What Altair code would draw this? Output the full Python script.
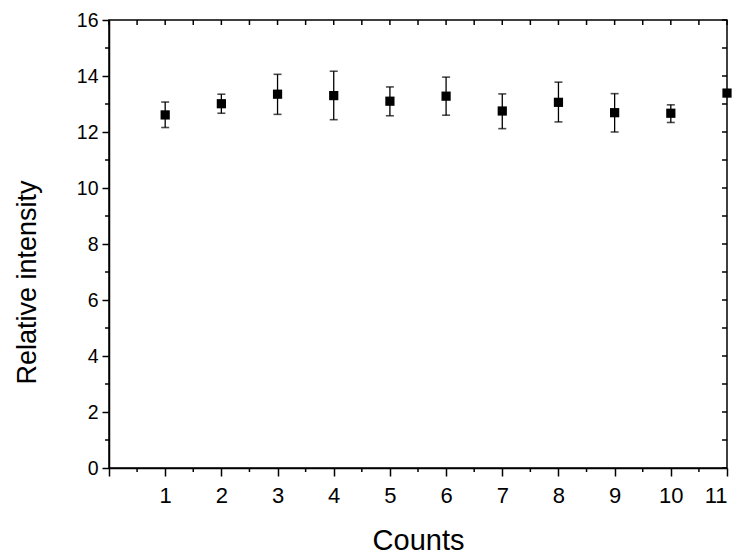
import altair as alt
import pandas as pd

# Data
counts = [1, 2, 3, 4, 5, 6, 7, 8, 9, 10, 11]
intensity = [12.61, 13.01, 13.35, 13.30, 13.10, 13.28, 12.75, 13.06, 12.69, 12.67, 13.39]
err_low = [12.16, 12.67, 12.63, 12.44, 12.58, 12.60, 12.12, 12.36, 12.00, 12.34, 13.39]
err_high = [13.07, 13.35, 14.06, 14.17, 13.61, 13.96, 13.36, 13.78, 13.37, 12.97, 13.39]

# Tick values
x_major = list(range(0, 12))
x_minor = [i + 0.5 for i in range(0, 11)]
x_all = [i * 0.5 for i in range(0, 23)]
y_major = list(range(0, 17, 2))
y_minor = list(range(1, 16, 2))
y_all = list(range(0, 17))

df = pd.DataFrame({"x": counts, "y": intensity, "lo": err_low, "hi": err_high})

W, H = 618, 448
NARROW = "'Liberation Sans Narrow', 'Arial Narrow', 'Liberation Sans', sans-serif"
LABEL = "'Liberation Sans', Arial, sans-serif"

xs = alt.Scale(domain=[0, 11], nice=False, zero=False)
ys = alt.Scale(domain=[0, 16], nice=False, zero=False)

x_axis = alt.Axis(orient="bottom", values=x_major, format="d",
                  labelExpr="datum.value == 0 ? '' : datum.label",
                  tickSize=8, tickWidth=1.5, tickColor="black", domainColor="black", domainWidth=1.5,
                  labelFont=LABEL, labelFontSize=22, labelColor="black", labelPadding=9,
                  title="Counts", titleFont=NARROW, titleFontSize=29, titleFontWeight="normal",
                  titleColor="black", titleY=72, titleBaseline="middle", grid=False)
y_axis = alt.Axis(orient="left", values=y_major, format="d", tickSize=7, tickWidth=1.5, tickColor="black",
                  domainColor="black", domainWidth=1.5, labelFont=LABEL, labelFontSize=19.5,
                  labelColor="black", labelPadding=4, title="Relative intensity", titleFont=NARROW,
                  titleFontSize=27, titleFontWeight="normal", titleColor="black", titleX=-82,
                  titleY=262, titleAngle=270, titleAlign="center", titleBaseline="middle", grid=False)

base = alt.Chart(df)

points = base.mark_square(size=85, color="black", opacity=1, clip=False).encode(
    x=alt.X("x:Q", scale=xs, axis=x_axis),
    y=alt.Y("y:Q", scale=ys, axis=y_axis),
)
bars = base.mark_rule(color="black", strokeWidth=1.3).encode(
    x=alt.X("x:Q"),
    y=alt.Y("lo:Q"),
    y2="hi:Q",
)
cap_lo = base.mark_tick(color="black", orient="horizontal", size=8, thickness=1.6).encode(
    x=alt.X("x:Q"),
    y=alt.Y("lo:Q"),
)
cap_hi = base.mark_tick(color="black", orient="horizontal", size=8, thickness=1.6).encode(
    x=alt.X("x:Q"),
    y=alt.Y("hi:Q"),
)

# Minor ticks (outward) and mirrored ticks (inward) built from the tick arrays
bx_minor = alt.Chart(pd.DataFrame({"t": x_minor})).mark_rule(color="black", strokeWidth=1.5, y2Offset=4).encode(
    x=alt.X("t:Q"), y=alt.datum(0), y2=alt.datum(0))
ly_minor = alt.Chart(pd.DataFrame({"t": y_minor})).mark_rule(color="black", strokeWidth=1.5, x2Offset=-4).encode(
    y=alt.Y("t:Q"), x=alt.datum(0), x2=alt.datum(0))
top_ticks = alt.Chart(pd.DataFrame({"t": x_all})).mark_rule(color="black", strokeWidth=1.5, y2Offset=5).encode(
    x=alt.X("t:Q"), y=alt.datum(16), y2=alt.datum(16))
right_ticks = alt.Chart(pd.DataFrame({"t": y_all})).mark_rule(color="black", strokeWidth=1.5, x2Offset=-5).encode(
    y=alt.Y("t:Q"), x=alt.datum(11), x2=alt.datum(11))

chart = alt.layer(points, bars, cap_lo, cap_hi, bx_minor, ly_minor, top_ticks, right_ticks).properties(
    width=W, height=H,
    autosize=alt.AutoSizeParams(type="none"),
    padding={"left": 109, "top": 20, "right": 737 - 109 - W, "bottom": 557 - 20 - H},
    background="white",
).configure_view(stroke="black", strokeWidth=1.5)

chart.save("out.html", embed_options={"renderer": "svg", "actions": False})
